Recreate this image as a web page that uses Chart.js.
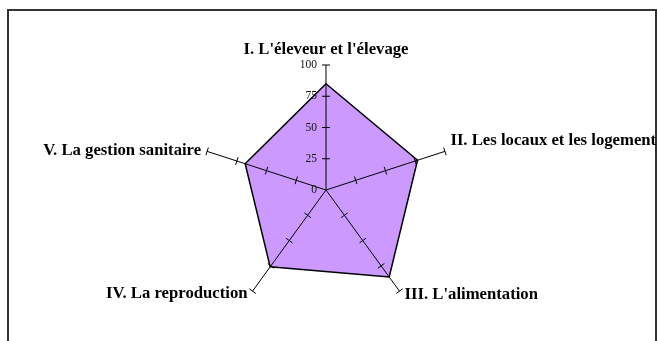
<!DOCTYPE html>
<html>
<head>
<meta charset="utf-8">
<script src="https://cdn.jsdelivr.net/npm/chart.js@4/dist/chart.umd.min.js"></script>
<style>
  html, body { margin: 0; padding: 0; background: #fff; }
  #wrap { width: 658px; height: 341px; }
</style>
</head>
<body>
<div id="wrap"><canvas id="c" width="658" height="341"></canvas></div>
<script>
const categories = [
  "I. L'éleveur et l'élevage",
  "II. Les locaux et les logement",
  "III. L'alimentation",
  "IV. La reproduction",
  "V. La gestion sanitaire"
];
const scores = [85, 77, 86, 76, 68];
const tickValues = [0, 25, 50, 75, 100];

// label placement relative to each axis end: [dx, dy, align]
const labelPlacement = [
  [0, -11.5, 'center'],
  [5.5, -6, 'left'],
  [5, 8, 'left'],
  [-5, 7, 'right'],
  [-6, 4, 'right']
];

const decor = {
  id: 'decor',
  afterDraw(chart) {
    const ctx = chart.ctx;
    const s = chart.scales.r;
    ctx.save();
    // tick marks on every axis
    ctx.strokeStyle = '#000';
    ctx.lineWidth = 1;
    for (let i = 0; i < categories.length; i++) {
      const a = s.getIndexAngle(i) - Math.PI / 2;
      const px = -Math.sin(a), py = Math.cos(a);
      for (const v of tickValues) {
        if (v === 0) continue;
        const p = s.getPointPositionForValue(i, v);
        const h = 4;
        ctx.beginPath();
        ctx.moveTo(p.x - px * h, p.y - py * h);
        ctx.lineTo(p.x + px * h, p.y + py * h);
        ctx.stroke();
      }
    }
    // tick labels along first axis
    ctx.fillStyle = '#111';
    ctx.font = '11.5px "Liberation Serif", "Times New Roman", serif';
    ctx.textAlign = 'right';
    ctx.textBaseline = 'middle';
    for (const v of tickValues) {
      const p = s.getPointPositionForValue(0, v);
      ctx.fillText(String(v), p.x - 9, p.y);
    }
    // frame
    ctx.strokeStyle = '#333';
    ctx.lineWidth = 2;
    ctx.strokeRect(8, 10, 648, 400);
    // category labels, clipped to the frame
    ctx.beginPath();
    ctx.rect(9, 11, 647, 400);
    ctx.clip();
    ctx.fillStyle = '#000';
    ctx.font = 'bold 16.7px "Liberation Serif", "Times New Roman", serif';
    ctx.textBaseline = 'alphabetic';
    for (let i = 0; i < categories.length; i++) {
      const e = s.getPointPositionForValue(i, 100);
      const [dx, dy, al] = labelPlacement[i];
      ctx.textAlign = al;
      ctx.fillText(categories[i], e.x + dx, e.y + dy);
    }
    ctx.restore();
  }
};

new Chart(document.getElementById('c'), {
  type: 'radar',
  data: {
    labels: categories,
    datasets: [{
      data: scores,
      backgroundColor: '#CC99FF',
      borderColor: '#000',
      borderWidth: 1.5,
      pointRadius: 0,
      fill: true
    }]
  },
  options: {
    responsive: false,
    animation: false,
    layout: { padding: { left: 201, right: 207, top: 65, bottom: 26 } },
    plugins: { legend: { display: false }, tooltip: { enabled: false } },
    scales: {
      r: {
        min: 0,
        max: 100,
        ticks: { display: false, stepSize: 25 },
        grid: { display: false, z: 1 },
        angleLines: { display: true, color: '#000', lineWidth: 1 },
        pointLabels: { display: false }
      }
    }
  },
  plugins: [decor]
});
</script>
</body>
</html>
